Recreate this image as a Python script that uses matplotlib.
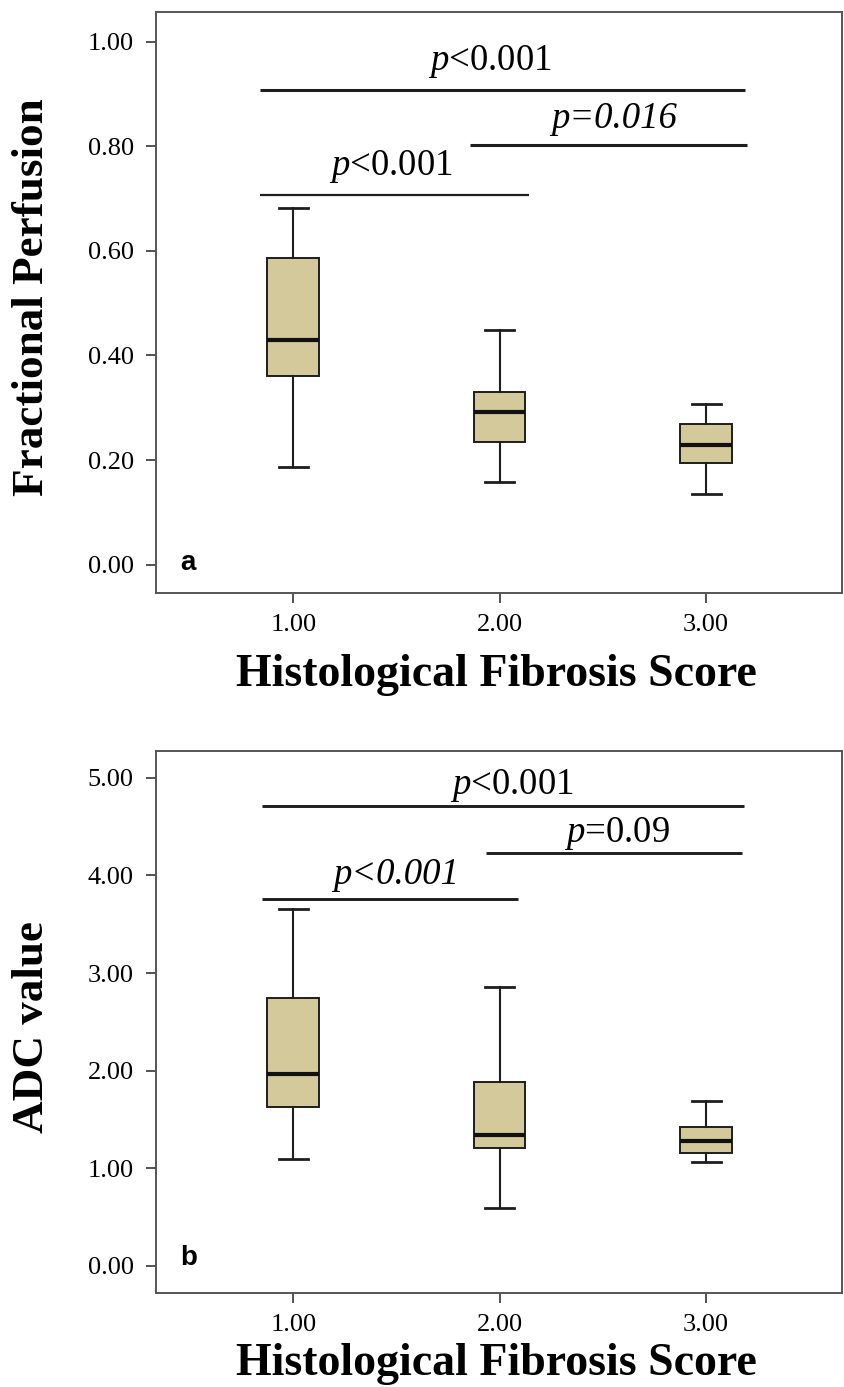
import matplotlib
matplotlib.use("Agg")
import matplotlib.pyplot as plt

plt.rcParams['font.family'] = ['Liberation Serif', 'DejaVu Serif']
plt.rcParams['mathtext.fontset'] = 'custom'
plt.rcParams['mathtext.rm'] = 'Liberation Serif'
plt.rcParams['mathtext.it'] = 'Liberation Serif:italic'

scores = [1.0, 2.0, 3.0]
score_labels = ['1.00', '2.00', '3.00']
x_title = 'Histological Fibrosis Score'

# panel a: fractional perfusion, box summary per fibrosis score
fp_whislo = [0.187, 0.157, 0.135]
fp_q1 = [0.360, 0.234, 0.195]
fp_med = [0.430, 0.291, 0.229]
fp_q3 = [0.587, 0.331, 0.269]
fp_whishi = [0.683, 0.448, 0.307]
fp_ticks = [0.0, 0.2, 0.4, 0.6, 0.8, 1.0]

# panel a: significance bars
fp_bar_from = [0.84, 1.855, 0.84]
fp_bar_to = [3.19, 3.20, 2.14]
fp_bar_y = [0.908, 0.803, 0.7075]
fp_p_text = [r'$p$<0.001', 'p=0.016', r'$p$<0.001']
fp_p_italic = [False, True, False]
fp_p_x = [1.952, 2.554, 1.472]
fp_p_y = [0.946, 0.8345, 0.745]

# panel b: ADC value
adc_whislo = [1.092, 0.590, 1.061]
adc_q1 = [1.627, 1.208, 1.160]
adc_med = [1.962, 1.344, 1.279]
adc_q3 = [2.746, 1.887, 1.420]
adc_whishi = [3.651, 2.852, 1.692]
adc_ticks = [0.0, 1.0, 2.0, 3.0, 4.0, 5.0]

adc_bar_from = [0.851, 1.935, 0.851]
adc_bar_to = [3.185, 3.175, 2.09]
adc_bar_y = [4.708, 4.234, 3.760]
adc_p_text = [r'$p$<0.001', r'$p$=0.09', 'p<0.001']
adc_p_italic = [False, False, True]
adc_p_x = [2.06, 2.57, 1.497]
adc_p_y = [4.834, 4.345, 3.912]

BOX_FILL = '#D4C99B'
INK = '#1e1e1e'


def draw_panel(ax, whislo, q1, med, q3, whishi, yticks, ylim, ylabel, letter, letter_y,
               bar_from, bar_to, bar_y, bar_lw, p_text, p_italic, p_x, p_y,
               ylabel_pos, xlabel_y):
    stats = [dict(med=m, q1=a, q3=b, whislo=lo, whishi=hi, fliers=[])
             for lo, a, m, b, hi in zip(whislo, q1, med, q3, whishi)]
    ax.bxp(stats, positions=scores, widths=0.25, capwidths=0.14,
           patch_artist=True, showfliers=False, manage_ticks=False,
           boxprops=dict(facecolor=BOX_FILL, edgecolor=INK, linewidth=1.4),
           medianprops=dict(color='#111111', linewidth=3.0),
           whiskerprops=dict(color=INK, linewidth=1.5),
           capprops=dict(color=INK, linewidth=2.0))

    for x0, x1, y, lw in zip(bar_from, bar_to, bar_y, bar_lw):
        ax.plot([x0, x1], [y, y], color=INK, linewidth=lw, solid_capstyle='butt')
    for txt, it, x, y in zip(p_text, p_italic, p_x, p_y):
        ax.text(x, y, txt, fontsize=26.5, ha='center', va='baseline',
                style='italic' if it else 'normal')

    ax.text(0.451, letter_y, letter, fontsize=20, fontweight='bold',
            family='Liberation Sans', ha='left', va='baseline')

    ax.set_xlim(0.335, 3.657)
    ax.set_ylim(*ylim)
    ax.set_xticks(scores, score_labels)
    ax.set_yticks(yticks, [f'{v:.2f}' for v in yticks])
    ax.tick_params(axis='both', direction='out', length=7, width=1.2, color='#333333',
                   labelsize=19)
    ax.tick_params(axis='y', pad=9)
    ax.tick_params(axis='x', pad=8)
    for side in ax.spines.values():
        side.set_color('#555555')
        side.set_linewidth(1.4)

    ax.set_ylabel(ylabel, fontsize=32.5, fontweight='bold', va='center')
    ax.yaxis.set_label_coords(-0.181, ylabel_pos)
    ax.set_xlabel(x_title, fontsize=33, fontweight='bold', va='center')
    ax.xaxis.set_label_coords(0.4965, xlabel_y)


fig = plt.figure(figsize=(8.44, 13.87), dpi=100)
fig.patch.set_facecolor('white')

ax_a = fig.add_axes([0.1848, 0.57224, 0.8125, 0.41911])
draw_panel(ax_a, fp_whislo, fp_q1, fp_med, fp_q3, fp_whishi, fp_ticks, (-0.055, 1.057),
           'Fractional Perfusion', 'a', -0.0105,
           fp_bar_from, fp_bar_to, fp_bar_y, [2.2, 2.2, 1.6],
           fp_p_text, fp_p_italic, fp_p_x, fp_p_y, 0.51, -0.1405)

ax_b = fig.add_axes([0.1848, 0.06756, 0.8125, 0.3912])
draw_panel(ax_b, adc_whislo, adc_q1, adc_med, adc_q3, adc_whishi, adc_ticks, (-0.280, 5.277),
           'ADC value', 'b', 0.01,
           adc_bar_from, adc_bar_to, adc_bar_y, [2.1, 2.1, 2.1],
           adc_p_text, adc_p_italic, adc_p_x, adc_p_y, 0.49, -0.1303)

fig.savefig('out.png', dpi=100)
